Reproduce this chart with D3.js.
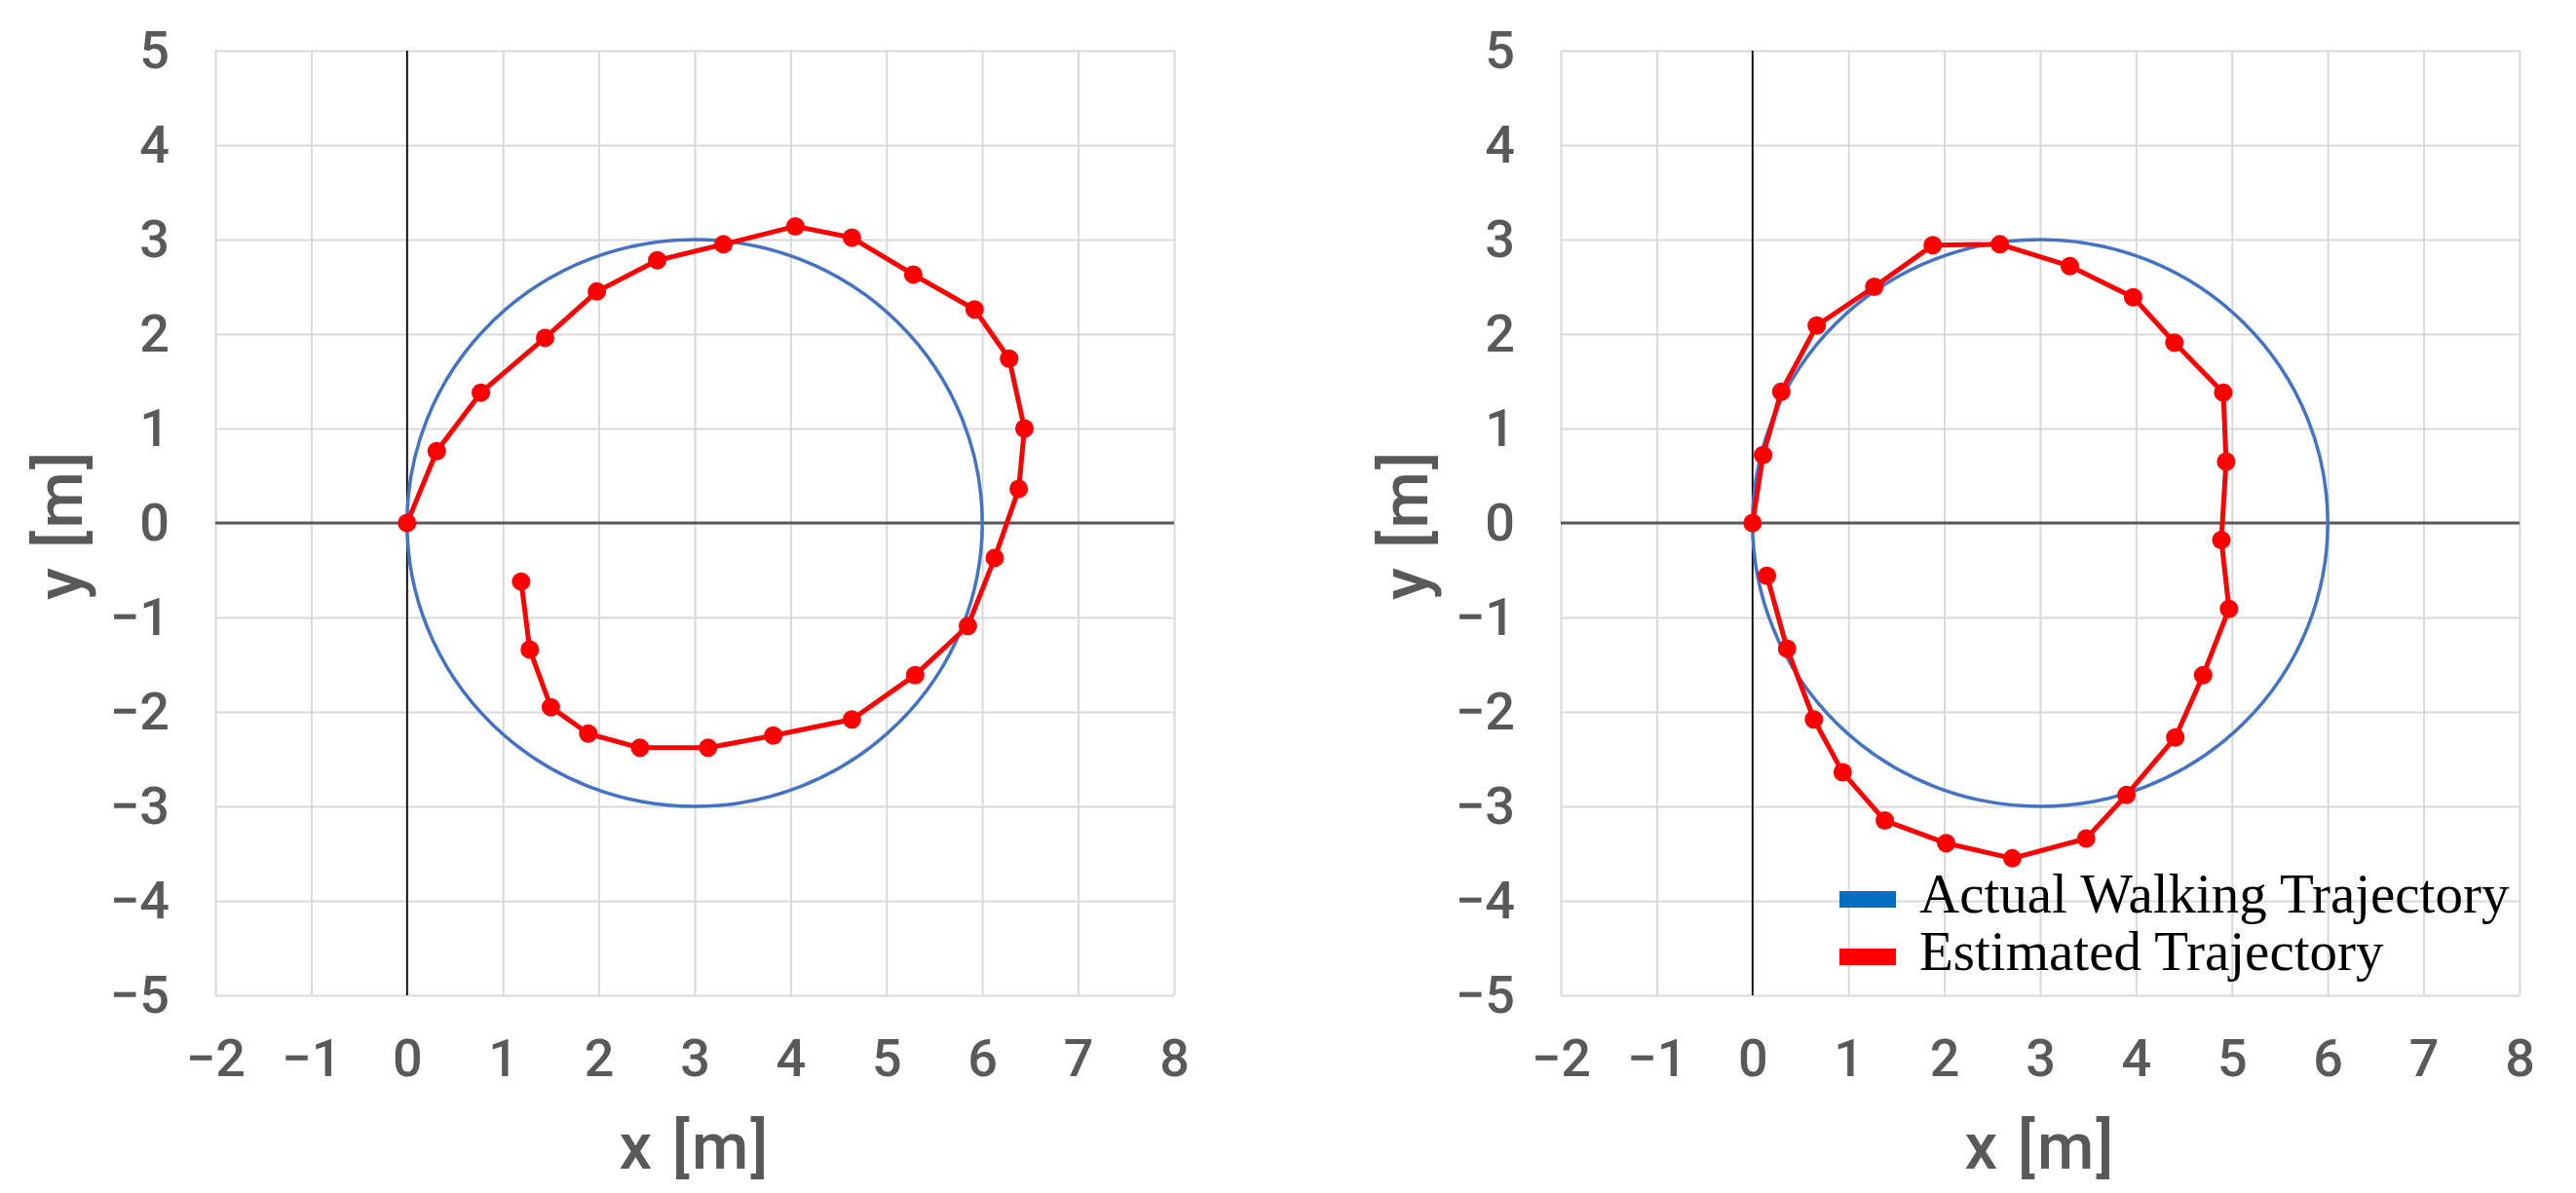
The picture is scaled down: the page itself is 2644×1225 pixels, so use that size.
<!DOCTYPE html>
<html>
<head>
<meta charset="utf-8">
<script src="https://cdn.jsdelivr.net/npm/d3@7"></script>
<style>
  body { margin: 0; background: #ffffff; }
  svg { display: block; }
</style>
</head>
<body>
<svg id="chart"></svg>
<script>
// Axis ticks
const xTicks = [-2, -1, 0, 1, 2, 3, 4, 5, 6, 7, 8];
const yTicks = [-5, -4, -3, -2, -1, 0, 1, 2, 3, 4, 5];

// Actual walking trajectory: circle, centre (3, 0), radius 3 m
const actualCenter = [3, 0];
const actualRadius = 3;

// Estimated trajectory, left panel
const leftX = [0, 0.31, 0.77, 1.44, 1.98, 2.61, 3.30, 4.05, 4.64, 5.28, 5.92, 6.28, 6.44, 6.38, 6.13,
  5.85, 5.30, 4.64, 3.82, 3.14, 2.43, 1.89, 1.50, 1.28, 1.19];
const leftY = [0, 0.76, 1.38, 1.96, 2.45, 2.78, 2.95, 3.14, 3.02, 2.63, 2.26, 1.74, 1.00, 0.36, -0.37,
  -1.09, -1.61, -2.08, -2.25, -2.38, -2.38, -2.23, -1.95, -1.34, -0.62];

// Estimated trajectory, right panel
const rightX = [0, 0.11, 0.30, 0.67, 1.27, 1.88, 2.58, 3.31, 3.97, 4.40, 4.91, 4.94, 4.89,
  4.97, 4.70, 4.41, 3.90, 3.48, 2.71, 2.02, 1.38, 0.94, 0.64, 0.36, 0.15];
const rightY = [0, 0.72, 1.39, 2.09, 2.50, 2.94, 2.95, 2.72, 2.39, 1.91, 1.38, 0.65, -0.18,
  -0.91, -1.61, -2.27, -2.88, -3.34, -3.55, -3.39, -3.15, -2.64, -2.08, -1.33, -0.56];

const legendLabels = ['Actual Walking Trajectory', 'Estimated Trajectory'];

const width = 2644;
const height = 1225;
const sansFont = 'Roboto, "Noto Sans", sans-serif';

const svg = d3.select('#chart')
  .attr('width', width)
  .attr('height', height)
  .style('background-color', '#ffffff');

function drawPanel(left, xs, ys, showLegend) {
  const plotW = 984;
  const top = 52;
  const bottom = 1022;

  const x = d3.scaleLinear().domain([-2, 8]).range([left, left + plotW]);
  const y = d3.scaleLinear().domain([-5, 5]).range([bottom, top]);

  const g = svg.append('g');

  // horizontal grid + y tick labels
  const gy = g.append('g')
    .attr('transform', `translate(${left}, 0)`)
    .call(d3.axisLeft(y).tickValues(yTicks).tickSize(-plotW).tickPadding(47));
  gy.select('.domain').remove();
  gy.selectAll('line')
    .attr('stroke', '#d9d9d9')
    .attr('stroke-width', 2);
  gy.selectAll('text')
    .style('font-family', sansFont)
    .style('font-size', '54px')
    .style('font-weight', 500)
    .attr('fill', '#595959');

  // vertical grid + x tick labels
  const gx = g.append('g')
    .attr('transform', `translate(0, ${bottom})`)
    .call(d3.axisBottom(x).tickValues(xTicks).tickSize(-(bottom - top)).tickPadding(45));
  gx.select('.domain').remove();
  gx.selectAll('line')
    .attr('stroke', '#d9d9d9')
    .attr('stroke-width', 2);
  gx.selectAll('text')
    .style('font-family', sansFont)
    .style('font-size', '54px')
    .style('font-weight', 500)
    .attr('fill', '#595959');

  // zero lines on top of the grid
  g.append('line')
    .attr('x1', x(-2)).attr('x2', x(8))
    .attr('y1', y(0)).attr('y2', y(0))
    .attr('stroke', '#595959')
    .attr('stroke-width', 3);
  g.append('line')
    .attr('x1', x(0)).attr('x2', x(0))
    .attr('y1', y(-5)).attr('y2', y(5))
    .attr('stroke', '#000000')
    .attr('stroke-width', 1.8);

  // axis titles
  g.append('text')
    .attr('x', left + plotW / 2)
    .attr('y', 1200)
    .attr('text-anchor', 'middle')
    .style('font-family', sansFont)
    .style('font-size', '67px')
    .style('font-weight', 500)
    .style('letter-spacing', '2px')
    .attr('fill', '#595959')
    .text('x [m]');

  g.append('text')
    .attr('transform', `translate(${left - 137}, 539) rotate(-90)`)
    .attr('text-anchor', 'middle')
    .style('font-family', sansFont)
    .style('font-size', '67px')
    .style('font-weight', 500)
    .style('letter-spacing', '2px')
    .attr('fill', '#595959')
    .text('y [m]');

  // actual trajectory (circle)
  g.append('ellipse')
    .attr('cx', x(actualCenter[0]))
    .attr('cy', y(actualCenter[1]))
    .attr('rx', x(actualCenter[0] + actualRadius) - x(actualCenter[0]))
    .attr('ry', y(actualCenter[1]) - y(actualCenter[1] + actualRadius))
    .attr('fill', 'none')
    .attr('stroke', '#4472c4')
    .attr('stroke-width', 3.5);

  // estimated trajectory
  const pts = xs.map((d, i) => [d, ys[i]]);
  const line = d3.line().x(d => x(d[0])).y(d => y(d[1]));
  g.append('path')
    .datum(pts)
    .attr('d', line)
    .attr('fill', 'none')
    .attr('stroke', '#ff0000')
    .attr('stroke-width', 5)
    .attr('stroke-linejoin', 'round');

  g.selectAll('.pt')
    .data(pts)
    .enter()
    .append('circle')
    .attr('class', 'pt')
    .attr('cx', d => x(d[0]))
    .attr('cy', d => y(d[1]))
    .attr('r', 9.5)
    .attr('fill', '#ff0000');

  if (showLegend) {
    const colors = ['#0070c0', '#ff0000'];
    const leg = g.append('g');
    legendLabels.forEach((label, i) => {
      const by = 937 + i * 59;
      leg.append('rect')
        .attr('x', 1888)
        .attr('y', by - 22)
        .attr('width', 58)
        .attr('height', 17)
        .attr('fill', colors[i]);
      leg.append('text')
        .attr('x', 1970)
        .attr('y', by)
        .style('font-family', '"Liberation Serif", "Times New Roman", serif')
        .style('font-size', '57px')
        .attr('fill', '#000000')
        .text(label);
    });
  }
}

drawPanel(221, leftX, leftY, false);
drawPanel(1602, rightX, rightY, true);
</script>
</body>
</html>
